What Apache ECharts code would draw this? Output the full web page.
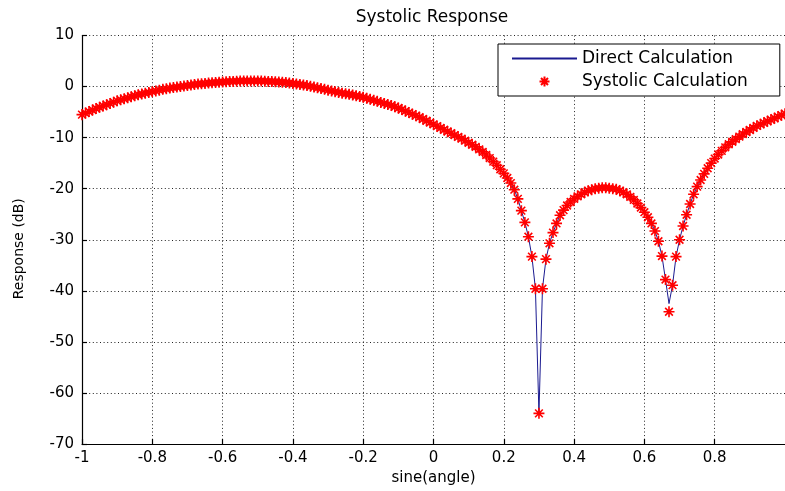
<!DOCTYPE html>
<html>
<head>
<meta charset="utf-8">
<script src="https://cdn.jsdelivr.net/npm/echarts@6/dist/echarts.min.js"></script>
<style>
html,body{margin:0;padding:0;background:#fff;}
#c{width:785px;height:491px;}
</style>
</head>
<body>
<div id="c"></div>
<script>
const titleText = 'Systolic Response';
const xAxisName = 'sine(angle)';
const yAxisName = 'Response (dB)';
const seriesNames = ['Direct Calculation', 'Systolic Calculation'];

const sineAngle = [
-1.00,-0.99,-0.98,-0.97,-0.96,-0.95,-0.94,-0.93,-0.92,-0.91,
-0.90,-0.89,-0.88,-0.87,-0.86,-0.85,-0.84,-0.83,-0.82,-0.81,
-0.80,-0.79,-0.78,-0.77,-0.76,-0.75,-0.74,-0.73,-0.72,-0.71,
-0.70,-0.69,-0.68,-0.67,-0.66,-0.65,-0.64,-0.63,-0.62,-0.61,
-0.60,-0.59,-0.58,-0.57,-0.56,-0.55,-0.54,-0.53,-0.52,-0.51,
-0.50,-0.49,-0.48,-0.47,-0.46,-0.45,-0.44,-0.43,-0.42,-0.41,
-0.40,-0.39,-0.38,-0.37,-0.36,-0.35,-0.34,-0.33,-0.32,-0.31,
-0.30,-0.29,-0.28,-0.27,-0.26,-0.25,-0.24,-0.23,-0.22,-0.21,
-0.20,-0.19,-0.18,-0.17,-0.16,-0.15,-0.14,-0.13,-0.12,-0.11,
-0.10,-0.09,-0.08,-0.07,-0.06,-0.05,-0.04,-0.03,-0.02,-0.01,
0.00,0.01,0.02,0.03,0.04,0.05,0.06,0.07,0.08,0.09,
0.10,0.11,0.12,0.13,0.14,0.15,0.16,0.17,0.18,0.19,
0.20,0.21,0.22,0.23,0.24,0.25,0.26,0.27,0.28,0.29,
0.30,0.31,0.32,0.33,0.34,0.35,0.36,0.37,0.38,0.39,
0.40,0.41,0.42,0.43,0.44,0.45,0.46,0.47,0.48,0.49,
0.50,0.51,0.52,0.53,0.54,0.55,0.56,0.57,0.58,0.59,
0.60,0.61,0.62,0.63,0.64,0.65,0.66,0.67,0.68,0.69,
0.70,0.71,0.72,0.73,0.74,0.75,0.76,0.77,0.78,0.79,
0.80,0.81,0.82,0.83,0.84,0.85,0.86,0.87,0.88,0.89,
0.90,0.91,0.92,0.93,0.94,0.95,0.96,0.97,0.98,0.99,
1.00
];

const directDb = [
-5.5,-5.2,-4.9,-4.6,-4.3,-4.05,-3.8,-3.55,-3.3,-3.05,
-2.8,-2.6,-2.4,-2.2,-2.0,-1.8,-1.6,-1.45,-1.3,-1.15,
-1.0,-0.85,-0.7,-0.55,-0.45,-0.3,-0.2,-0.1,0.0,0.1,
0.2,0.3,0.4,0.5,0.55,0.6,0.7,0.75,0.8,0.85,
0.9,0.95,1.0,1.0,1.05,1.1,1.1,1.1,1.1,1.1,
1.1,1.1,1.05,1.0,1.0,0.95,0.9,0.85,0.8,0.7,
0.6,0.5,0.4,0.3,0.2,0.05,-0.1,-0.25,-0.4,-0.55,
-0.7,-0.85,-1.0,-1.15,-1.3,-1.4,-1.5,-1.65,-1.8,-1.95,
-2.1,-2.3,-2.5,-2.7,-2.9,-3.1,-3.3,-3.5,-3.7,-3.95,
-4.2,-4.5,-4.8,-5.1,-5.4,-5.7,-6.0,-6.35,-6.7,-7.05,
-7.4,-7.75,-8.1,-8.45,-8.8,-9.15,-9.5,-9.85,-10.2,-10.6,
-11.0,-11.4,-11.8,-12.3,-12.8,-13.4,-14.0,-14.7,-15.4,-16.2,
-17.0,-17.9,-18.9,-20.2,-22.0,-24.3,-26.6,-29.4,-33.3,-39.6,
-64.0,-39.6,-33.8,-30.7,-28.6,-26.8,-25.2,-24.2,-23.3,-22.6,
-22.0,-21.5,-21.1,-20.7,-20.4,-20.2,-20.0,-19.9,-19.8,-19.8,
-19.9,-20.0,-20.1,-20.4,-20.7,-21.1,-21.6,-22.2,-22.9,-23.7,
-24.6,-25.6,-26.8,-28.3,-30.3,-33.2,-37.8,-42.5,-38.9,-33.3,
-30.0,-27.3,-25.1,-23.0,-21.1,-19.6,-18.3,-17.1,-16.0,-15.0,
-14.1,-13.3,-12.6,-11.9,-11.3,-10.8,-10.3,-9.8,-9.3,-8.9,
-8.5,-8.1,-7.7,-7.4,-7.1,-6.8,-6.5,-6.2,-5.9,-5.6,
-5.3
];

const systolicDb = [
-5.5,-5.2,-4.9,-4.6,-4.3,-4.05,-3.8,-3.55,-3.3,-3.05,
-2.8,-2.6,-2.4,-2.2,-2.0,-1.8,-1.6,-1.45,-1.3,-1.15,
-1.0,-0.85,-0.7,-0.55,-0.45,-0.3,-0.2,-0.1,0.0,0.1,
0.2,0.3,0.4,0.5,0.55,0.6,0.7,0.75,0.8,0.85,
0.9,0.95,1.0,1.0,1.05,1.1,1.1,1.1,1.1,1.1,
1.1,1.1,1.05,1.0,1.0,0.95,0.9,0.85,0.8,0.7,
0.6,0.5,0.4,0.3,0.2,0.05,-0.1,-0.25,-0.4,-0.55,
-0.7,-0.85,-1.0,-1.15,-1.3,-1.4,-1.5,-1.65,-1.8,-1.95,
-2.1,-2.3,-2.5,-2.7,-2.9,-3.1,-3.3,-3.5,-3.7,-3.95,
-4.2,-4.5,-4.8,-5.1,-5.4,-5.7,-6.0,-6.35,-6.7,-7.05,
-7.4,-7.75,-8.1,-8.45,-8.8,-9.15,-9.5,-9.85,-10.2,-10.6,
-11.0,-11.4,-11.8,-12.3,-12.8,-13.4,-14.0,-14.7,-15.4,-16.2,
-17.0,-17.9,-18.9,-20.2,-22.0,-24.3,-26.6,-29.4,-33.3,-39.6,
-64.0,-39.6,-33.8,-30.7,-28.6,-26.8,-25.2,-24.2,-23.3,-22.6,
-22.0,-21.5,-21.1,-20.7,-20.4,-20.2,-20.0,-19.9,-19.8,-19.8,
-19.9,-20.0,-20.1,-20.4,-20.7,-21.1,-21.6,-22.2,-22.9,-23.7,
-24.6,-25.6,-26.8,-28.3,-30.3,-33.2,-37.8,-44.1,-38.9,-33.3,
-30.0,-27.3,-25.1,-23.0,-21.1,-19.6,-18.3,-17.1,-16.0,-15.0,
-14.1,-13.3,-12.6,-11.9,-11.3,-10.8,-10.3,-9.8,-9.3,-8.9,
-8.5,-8.1,-7.7,-7.4,-7.1,-6.8,-6.5,-6.2,-5.9,-5.6,
-5.3
];

const xRange = [-1, 1];
const xStep = 0.2;
const yRange = [-70, 10];
const yStep = 10;

const FONT = 'DejaVu Sans';
const starSymbol = 'path://M5 0L5 10M0 5L10 5M1.5 1.5L8.5 8.5M1.5 8.5L8.5 1.5';

const directData = sineAngle.map((x, i) => [x, directDb[i]]);
const systolicData = sineAngle.map((x, i) => [x, systolicDb[i]]);

const gridLine = { show: true, lineStyle: { color: '#222', width: 1, type: [1, 2.6] } };

const chart = echarts.init(document.getElementById('c'), null, { renderer: 'canvas' });
chart.setOption({
  animation: false,
  backgroundColor: '#ffffff',
  title: {
    text: titleText,
    left: 432,
    top: 9,
    padding: 0,
    textAlign: 'center',
    textStyle: { fontFamily: FONT, fontSize: 17, fontWeight: 'normal', color: '#000' }
  },
  legend: {
    data: [
      { name: seriesNames[0], itemStyle: { opacity: 0, color: 'rgba(0,0,0,0)' } },
      { name: seriesNames[1] }
    ],
    orient: 'vertical',
    left: 498,
    top: 44,
    padding: [6, 32, 6, 13],
    itemGap: 6,
    itemWidth: 65,
    itemHeight: 10,
    selectedMode: false,
    backgroundColor: '#fff',
    borderColor: '#000',
    borderWidth: 1,
    borderRadius: 0,
    textStyle: { fontFamily: FONT, fontSize: 17, color: '#000' }
  },
  grid: { left: 82, right: -4, top: 35.5, bottom: 46, containLabel: false },
  xAxis: {
    type: 'value',
    min: xRange[0],
    max: xRange[1],
    interval: xStep,
    name: xAxisName,
    nameLocation: 'middle',
    nameGap: 27,
    nameTextStyle: { fontFamily: FONT, fontSize: 15, color: '#000' },
    axisLine: { show: true, onZero: false, lineStyle: { color: '#000', width: 1.2 } },
    axisTick: { show: true, inside: true, length: 5, lineStyle: { color: '#000', width: 1.2 } },
    axisLabel: { margin: 7, color: '#000', fontFamily: FONT, fontSize: 15, showMaxLabel: false },
    splitLine: gridLine
  },
  yAxis: {
    type: 'value',
    min: yRange[0],
    max: yRange[1],
    interval: yStep,
    name: yAxisName,
    nameLocation: 'middle',
    nameRotate: 90,
    nameGap: 56,
    nameTextStyle: { fontFamily: FONT, fontSize: 14, color: '#000', padding: [0, 18, 0, 0] },
    axisLine: { show: true, onZero: false, lineStyle: { color: '#000', width: 1.2 } },
    axisTick: { show: true, inside: true, length: 5, lineStyle: { color: '#000', width: 1.2 } },
    axisLabel: { margin: 8, color: '#000', fontFamily: FONT, fontSize: 15 },
    splitLine: gridLine
  },
  series: [
    {
      name: seriesNames[0],
      type: 'line',
      data: directData,
      symbol: 'none',
      showSymbol: false,
      smooth: false,
      lineStyle: { color: '#1a1a90', width: 1 },
      itemStyle: { color: '#1a1a90' },
      z: 2
    },
    {
      name: seriesNames[1],
      type: 'scatter',
      data: systolicData,
      symbol: starSymbol,
      symbolSize: 11,
      itemStyle: { color: 'rgba(0,0,0,0)', borderColor: '#ff0000', borderWidth: 1.6, opacity: 1 },
      z: 3
    }
  ]
});
</script>
</body>
</html>
